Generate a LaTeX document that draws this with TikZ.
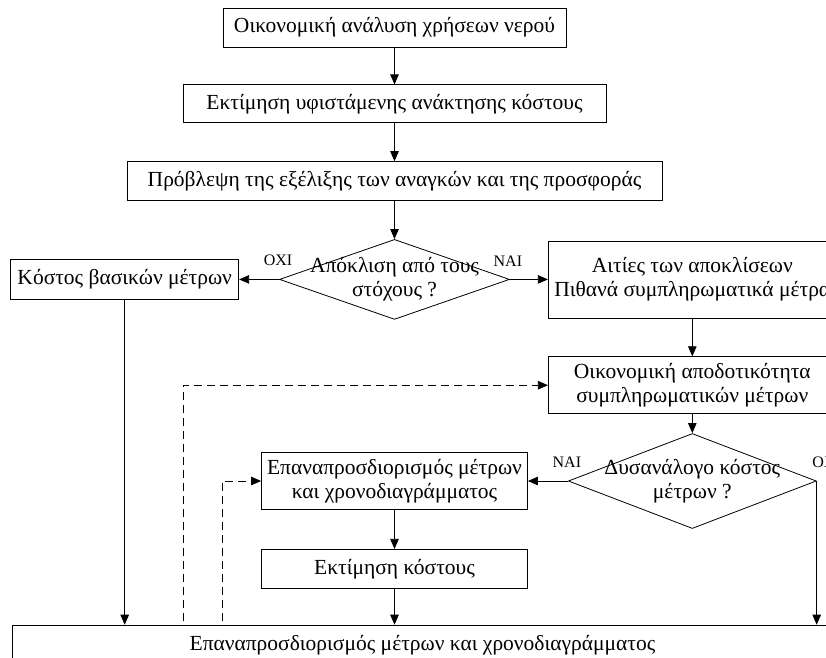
\documentclass[tikz,border=0pt]{standalone}
\usepackage{fontspec}
\setmainfont{Liberation Serif}
\usetikzlibrary{positioning,shapes.geometric,arrows.meta}

\begin{document}
\begin{tikzpicture}[x=1pt,y=-1pt,line width=0.8pt,
  >={Triangle[length=10pt,width=8.5pt]},
  box/.style = {draw, inner sep=0pt, align=center, font=\fontsize{21.5}{24}\selectfont},
  cond/.style = {draw, diamond, inner sep=0pt},
  lbl/.style = {inner sep=0pt, font=\fontsize{16}{16}\selectfont},
  fb/.style = {->, dash pattern=on 8pt off 5pt}]
  \useasboundingbox (0,0) rectangle (826,657);
  \clip (0,0) rectangle (826,657);
  \node[box, minimum width=343pt, minimum height=39pt] (1) at (394.5,27.5) {Οικονομική ανάλυση χρήσεων νερού};
  \node[box, minimum width=423pt, minimum height=38pt] (2) [below=37pt of 1] {Εκτίμηση υφιστάμενης ανάκτησης κόστους};
  \node[box, minimum width=535pt, minimum height=39pt] (3) [below=38pt of 2] {Πρόβλεψη της εξέλιξης των αναγκών και της προσφοράς};
  \node[cond, minimum width=230pt, minimum height=80pt,
    label={[box, draw=none]center:Απόκλιση από τους\\στόχους ?}] (4) [below=38pt of 3] {};
  \node[box, minimum width=228pt, minimum height=40pt] (5) [left=40pt of 4] {Κόστος βασικών μέτρων};
  \node[box, minimum width=288pt, minimum height=77pt] (6) [right=38pt of 4] {Αιτίες των αποκλίσεων\\Πιθανά συμπληρωματικά μέτρα};
  \node[box, minimum width=288pt, minimum height=57pt] (7) [below=38pt of 6] {Οικονομική αποδοτικότητα\\συμπληρωματικών μέτρων};
  \node[cond, minimum width=248pt, minimum height=95pt,
    label={[box, draw=none]center:Δυσανάλογο κόστος\\μέτρων ?}] (8) [below=19pt of 7] {};
  \node[box, minimum width=266pt, minimum height=57pt] (9) [left=40pt of 8] {Επαναπροσδιορισμός μέτρων\\και χρονοδιαγράμματος};
  \node[box, minimum width=266pt, minimum height=39pt] (10) [below=39pt of 9] {Εκτίμηση κόστους};
  \node[box, minimum width=820pt, minimum height=40pt] (11) [below=36pt of 10, xshift=28pt] {Επαναπροσδιορισμός μέτρων και χρονοδιαγράμματος};
  \node[lbl, above=13pt, xshift=-1pt] (12) at (4.west) {ΟΧΙ};
  \node[lbl, above=13pt, xshift=-2pt] (13) at (4.east) {ΝΑΙ};
  \node[lbl, above=13pt, xshift=-1pt] (14) at (8.west) {ΝΑΙ};
  \node[lbl, above=13pt, xshift=10pt] (15) at (8.east) {ΟΧΙ};
  \coordinate (16) at (183,621);
  \coordinate (17) at (222,621);
  \draw[->] (1) -- (2);
  \draw[->] (2) -- (3);
  \draw[->] (3) -- (4);
  \draw[->] (4) -- (5);
  \draw[->] (4) -- (6);
  \draw[->] (6) -- (7);
  \draw[->] (7) -- (8);
  \draw[->] (8) -- (9);
  \draw[->] (9) -- (10);
  \draw[->] (10) -- (10 |- 11.north);
  \draw[->] (5) -- (5 |- 11.north);
  \draw[->] (8.east) -- (8.east |- 11.north);
  \draw[fb] (16) |- (7.west);
  \draw[fb] (17) |- (9.west);
\end{tikzpicture}
\end{document}
